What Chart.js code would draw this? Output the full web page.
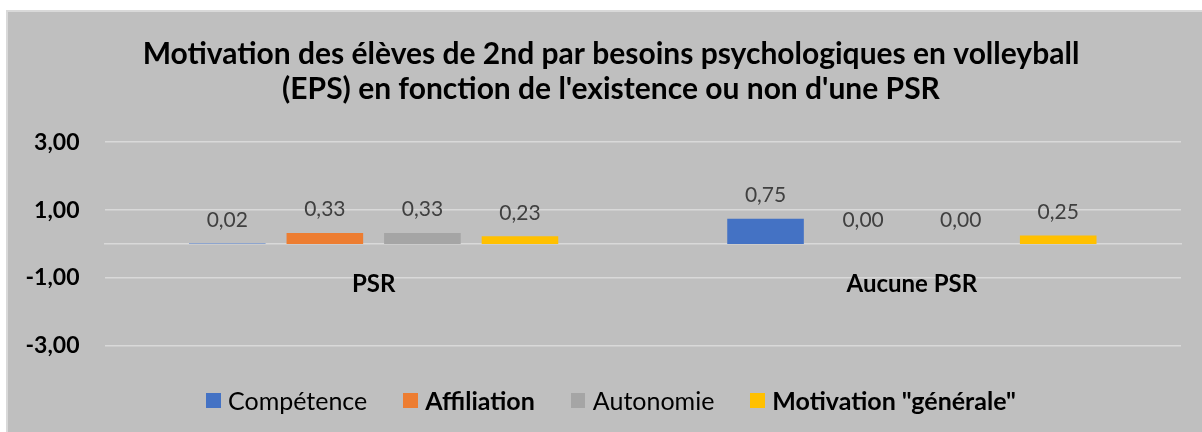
<!DOCTYPE html>
<html>
<head>
<meta charset="utf-8">
<script src="https://cdn.jsdelivr.net/npm/chart.js@4.4.1/dist/chart.umd.min.js"></script>
<style>
  body { margin: 0; background: #fff; }
  #wrap { position: relative; width: 1202px; height: 432px; overflow: hidden; }
  #frame {
    position: absolute; left: 6px; top: 10px; width: 1210px; height: 440px;
    background: #bfbfbf; border-left: 2px solid #d9d9d9; border-top: 2px solid #d9d9d9;
  }
  #chart { position: absolute; left: 0; top: 0; }
  #legend {
    position: absolute; left: 206px; top: 385px; height: 30px;
    display: flex; align-items: center; font-family: Lato; font-size: 25px; color: #000;
  }
  #legend .item { display: flex; align-items: center; margin-right: 36px; line-height: 30px; }
  #legend .box { width: 14.5px; height: 15px; margin-right: 7.5px; }
</style>
</head>
<body>
<div id="wrap">
  <div id="frame"></div>
  <canvas id="chart" width="1202" height="432"></canvas>
  <div id="legend"></div>
</div>
<script>
const titleLines = [
  "Motivation des élèves de 2nd par besoins psychologiques en volleyball",
  "(EPS) en fonction de l'existence ou non d'une PSR"
];
const categories = ["PSR", "Aucune PSR"];
const competence = [0.02, 0.75];
const affiliation = [0.33, 0.00];
const autonomie = [0.33, 0.00];
const motivation = [0.23, 0.25];
const yMin = -3, yMax = 3, yStep = 2;

const fmt = (v) => Number(v).toFixed(2).replace(".", ",");

Chart.defaults.font.family = "Lato";

// value labels above each bar
const barValues = {
  id: "barValues",
  afterDatasetsDraw(chart) {
    const ctx = chart.ctx;
    ctx.save();
    ctx.font = "21px Lato";
    ctx.fillStyle = "#404040";
    ctx.textAlign = "center";
    ctx.textBaseline = "middle";
    chart.data.datasets.forEach((ds, i) => {
      chart.getDatasetMeta(i).data.forEach((bar, j) => {
        ctx.fillText(fmt(ds.data[j]), bar.x, bar.y - 23.5);
      });
    });
    ctx.restore();
  }
};

const chart = new Chart(document.getElementById("chart"), {
  type: "bar",
  data: {
    labels: categories,
    datasets: [
      { label: "Compétence", data: competence, backgroundColor: "#4472c4", bold: false },
      { label: "Affiliation", data: affiliation, backgroundColor: "#ed7d31", bold: true },
      { label: "Autonomie", data: autonomie, backgroundColor: "#a5a5a5", bold: false },
      { label: 'Motivation "générale"', data: motivation, backgroundColor: "#ffc000", bold: true }
    ]
  },
  options: {
    responsive: false,
    animation: false,
    categoryPercentage: 0.725,
    barPercentage: 0.785,
    layout: { padding: { left: 20, right: 0, top: 12, bottom: 86 } },
    plugins: {
      legend: { display: false },
      tooltip: { enabled: false },
      title: {
        display: true,
        text: titleLines,
        color: "#000",
        font: { size: 30, weight: "bold", lineHeight: 1.17 },
        padding: { top: 25, bottom: 35 }
      }
    },
    scales: {
      x: {
        position: { y: 0 },
        grid: { display: false, drawTicks: false },
        border: { display: true, color: "#d9d9d9", width: 1.5 },
        ticks: { color: "#000", font: { size: 24, weight: "bold" }, padding: 26 }
      },
      y: {
        min: yMin,
        max: yMax,
        ticks: {
          stepSize: yStep,
          color: "#000",
          font: { size: 23, weight: "bold" },
          padding: 25,
          callback: (v) => fmt(v)
        },
        grid: { color: "#d9d9d9", lineWidth: 1.5, drawTicks: false },
        border: { display: false },
        afterFit: (scale) => { scale.width = 84.5; }
      },
      // empty right margin so the title stays centred on the whole frame
      yRight: {
        position: "right",
        grid: { display: false },
        ticks: { display: false },
        border: { display: false },
        afterFit: (scale) => { scale.width = 21; }
      }
    }
  },
  plugins: [barValues]
});

// legend as html so that single entries can be bold
const legend = document.getElementById("legend");
chart.data.datasets.forEach((ds) => {
  const item = document.createElement("div");
  item.className = "item";
  const box = document.createElement("span");
  box.className = "box";
  box.style.background = ds.backgroundColor;
  const text = document.createElement("span");
  text.textContent = ds.label;
  text.style.fontWeight = ds.bold ? "bold" : "normal";
  item.appendChild(box);
  item.appendChild(text);
  legend.appendChild(item);
});
</script>
</body>
</html>
